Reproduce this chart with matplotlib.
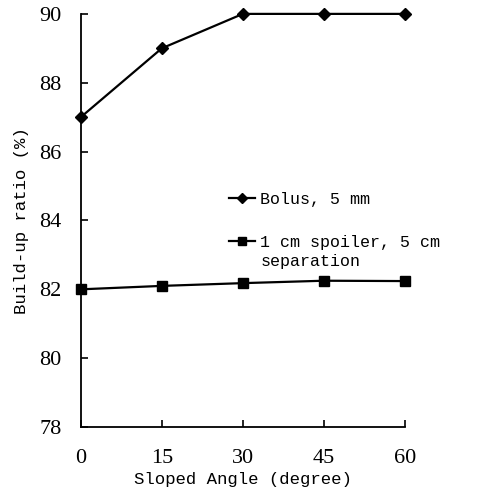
import numpy as np
import matplotlib.pyplot as plt

# data
angles = [0, 15, 30, 45, 60]
bolus = [87.0, 89.0, 90.0, 90.0, 90.0]
spoiler = [82.0, 82.1, 82.18, 82.25, 82.24]
bolus_label = "Bolus, 5 mm"
spoiler_label = "1 cm spoiler, 5 cm"
spoiler_label2 = "separation"

mono = "Liberation Mono"
serif = "Liberation Serif"

fig = plt.figure(figsize=(4.78, 4.96), dpi=100)
ax = fig.add_axes([0.169, 0.139, 0.678, 0.833])

ax.plot(angles, bolus, color="black", lw=1.6, marker="D", ms=6,
        label=bolus_label, clip_on=False)
ax.plot(angles, spoiler, color="black", lw=1.6, marker="s", ms=7,
        label=spoiler_label, clip_on=False)

ax.set_xlim(0, 60)
ax.set_ylim(78, 90)
ax.set_xticks(angles)
ax.set_yticks(np.arange(78, 91, 2))

for s in ["top", "right"]:
    ax.spines[s].set_visible(False)
for s in ["left", "bottom"]:
    ax.spines[s].set_linewidth(1.3)

ax.tick_params(direction="in", length=5, width=1.2)
ax.tick_params(axis="x", pad=16)
ax.tick_params(axis="y", pad=14)
for lab in ax.get_xticklabels() + ax.get_yticklabels():
    lab.set_fontfamily(serif)
    lab.set_fontsize(16)

ax.set_xlabel("Sloped Angle (degree)", fontfamily=mono, fontsize=12.5, labelpad=3)
ax.set_ylabel("Build-up ratio (%)", fontfamily=mono, fontsize=12.5, labelpad=7)

leg = ax.legend(loc="upper left", bbox_to_anchor=(0.41, 0.606), frameon=False,
                prop={"family": mono, "size": 12}, handlelength=1.6,
                handletextpad=0.3, labelspacing=1.7, markerscale=0.85)

# second line of the spoiler label, hung under the legend text
# (zorder above the legend so it is drawn after the legend is placed)
ax.annotate(spoiler_label2, xy=(0, 0), xycoords=leg.get_texts()[1],
            xytext=(0, -13.5), textcoords="offset points",
            ha="left", va="bottom", fontfamily=mono, fontsize=12,
            zorder=10, annotation_clip=False)

fig.savefig("out.png", dpi=100)
